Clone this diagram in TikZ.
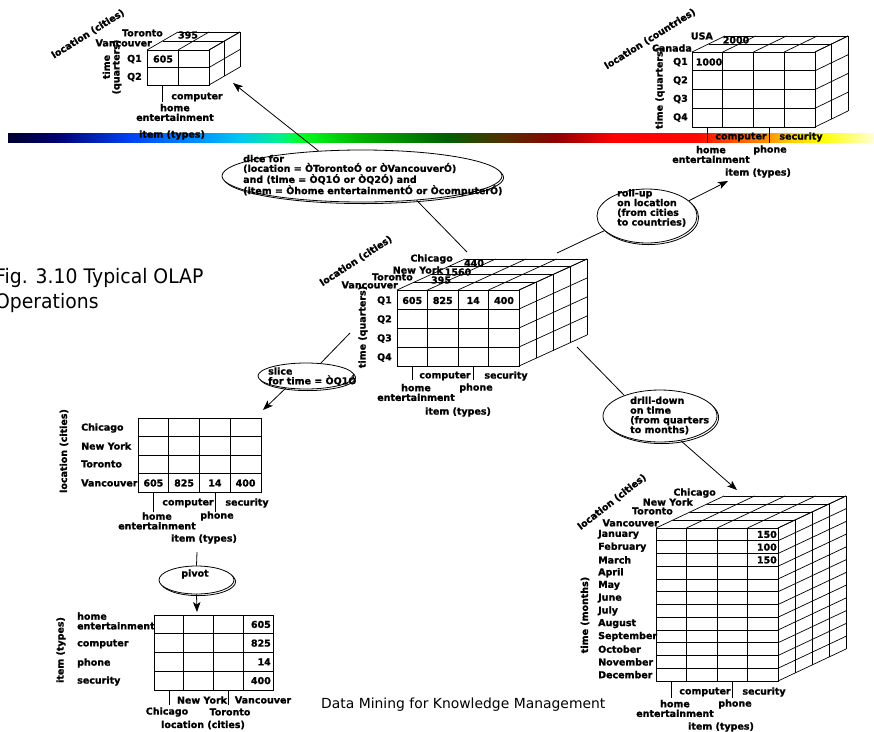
\documentclass[tikz,border=0pt]{standalone}
\usepackage{fontspec}
\setmainfont{DejaVu Sans}
\newfontfamily\heavy{DejaVu Sans Bold}[FakeBold=1.2]
\usetikzlibrary{shapes.geometric,arrows.meta,shadows}

% colour stops of the spectrum band
\definecolor{g0}{HTML}{000030}
\definecolor{g1}{HTML}{000070}
\definecolor{g2}{HTML}{0040F0}
\definecolor{g3}{HTML}{0080FF}
\definecolor{g4}{HTML}{00C8F0}
\definecolor{g5}{HTML}{00F090}
\definecolor{g6}{HTML}{00FF20}
\definecolor{g7}{HTML}{00B000}
\definecolor{g8}{HTML}{006000}
\definecolor{g9}{HTML}{503000}
\definecolor{g10}{HTML}{900000}
\definecolor{g11}{HTML}{FF0000}
\definecolor{g12}{HTML}{FF0800}
\definecolor{g13}{HTML}{FF4000}
\definecolor{g14}{HTML}{FF9000}
\definecolor{g15}{HTML}{FFD000}
\definecolor{g16}{HTML}{FFFF00}
\definecolor{g17}{HTML}{FFFFD8}

\tikzset{
  cubeline/.style={line width=0.7pt, black},
  lbl/.style={font=\heavy\fontsize{9.5}{9.7}\selectfont, inner sep=0pt, align=center},
  bubble/.style={ellipse, draw, line width=0.8pt, fill=white, inner sep=0pt,
    copy shadow={shadow xshift=1.6pt, shadow yshift=-1.6pt}},
  link/.style={line width=0.8pt},
  arrowlink/.style={line width=0.8pt, -{Stealth[length=10pt,width=7.5pt,inset=2.5pt]}},
  tickline/.style={line width=0.8pt},
}

% flat grid: x0, y0, columns, column width, rows, row height
\newcommand{\flatgrid}[6]{%
  \draw[cubeline] (#1,#2) rectangle ++({#3*#4},{#5*#6});
  \foreach \gi in {1,...,#3}{\draw[cubeline] ({#1+\gi*#4},#2) -- ++(0,{#5*#6});}
  \foreach \gj in {1,...,#5}{\draw[cubeline] (#1,{#2+\gj*#6}) -- ++({#3*#4},0);}
}
% data cube: front grid plus layers, each layer shifted by (dx,dy)
\newcommand{\olapcube}[9]{%
  \flatgrid{#1}{#2}{#3}{#4}{#5}{#6}
  \foreach \gk in {1,...,#7}{
    \draw[cubeline] ({#1+\gk*#8},{#2+\gk*(#9)}) -- ++({#3*#4},0);
    \draw[cubeline] ({#1+#3*#4+\gk*#8},{#2+\gk*(#9)}) -- ++(0,{#5*#6});
  }
  \foreach \gi in {0,...,#3}{\draw[cubeline] ({#1+\gi*#4},#2) -- ++({#7*#8},{#7*(#9)});}
  \foreach \gj in {0,...,#5}{\draw[cubeline] ({#1+#3*#4},{#2+\gj*#6}) -- ++({#7*#8},{#7*(#9)});}
}

\begin{document}
\begin{tikzpicture}[x=1pt,y=-1pt]
\useasboundingbox (0,0) rectangle (874,731);
\fill[white] (0,0) rectangle (874,731);

% spectrum band
\foreach \xa/\ca/\xb/\cb in {8/g0/56/g1, 56/g1/128/g2, 128/g2/184/g3, 184/g3/240/g4,
  240/g4/279/g5, 279/g5/301/g6, 301/g6/362/g7, 362/g7/446/g8, 446/g8/502/g9,
  502/g9/557/g10, 557/g10/613/g11, 613/g11/697/g12, 697/g12/725/g13,
  725/g13/767/g14, 767/g14/792/g15, 792/g15/823/g16, 823/g16/874/g17}
  \shade[left color=\ca, right color=\cb] (\xa,133) rectangle ({\xb+0.4},142);

% ---------- diced cube ----------
\olapcube{147}{50}{2}{31}{2}{17.5}{2}{15.5}{-9}
\node[lbl, anchor=east] (tl-tor) at (163,33) {Toronto};
\node[lbl] (tl-395) at (188,35) {395};
\node[lbl, anchor=east] (tl-van) at (152,43) {Vancouver};
\node[lbl, anchor=east] (tl-q1) at (142,59) {Q1};
\node[lbl, anchor=east] (tl-q2) at (142,77) {Q2};
\node[lbl] (tl-605) at (163,59) {605};
\node[lbl, rotate=32] (tl-loc) at (88,34) {location (cities)};
\node[lbl, rotate=90] (tl-time) at (112,67) {time\\(quarters)};
\draw[tickline] (162.5,85) -- (162.5,102);
\node[lbl] (tl-comp) at (197,97) {computer};
\node[lbl] (tl-home) at (175,112.5) {home\\entertainment};
\node[lbl] (tl-item) at (172,135) {item (types)};

% ---------- rolled-up cube ----------
\olapcube{692}{52}{4}{30.75}{4}{18.75}{2}{16.5}{-8}
\node[lbl, anchor=east] (tr-usa) at (713,36) {USA};
\node[lbl] (tr-2000) at (736,40) {2000};
\node[lbl, anchor=east] (tr-can) at (692,48) {Canada};
\node[lbl, anchor=east] (tr-q1) at (688,62) {Q1};
\node[lbl, anchor=east] (tr-q2) at (688,80.5) {Q2};
\node[lbl, anchor=east] (tr-q3) at (688,99) {Q3};
\node[lbl, anchor=east] (tr-q4) at (688,117.5) {Q4};
\node[lbl] (tr-1000) at (709,62) {1000};
\node[lbl, rotate=32] (tr-loc) at (650,39) {location (countries)};
\node[lbl, rotate=90] (tr-time) at (660,88) {time (quarters)};
\draw[tickline] (707.4,127) -- (707.4,143);
\draw[tickline] (768.9,127) -- (768.9,143);
\node[lbl] (tr-comp) at (741,137) {computer};
\node[lbl] (tr-sec) at (801,137) {security};
\node[lbl] (tr-home) at (711,154.5) {home\\entertainment};
\node[lbl] (tr-phone) at (770,150) {phone};
\node[lbl] (tr-item) at (758,173) {item (types)};

% ---------- central cube ----------
\olapcube{397}{290}{4}{30.5}{4}{19}{4}{17}{-7.75}
\node[lbl, anchor=east] (c-chi) at (453,259) {Chicago};
\node[lbl, anchor=east] (c-ny) at (443,270) {New York};
\node[lbl, anchor=east] (c-tor) at (413,277) {Toronto};
\node[lbl, anchor=east] (c-van) at (398,285) {Vancouver};
\node[lbl] (c-440) at (474,263) {440};
\node[lbl] (c-1560) at (458,272) {1560};
\node[lbl] (c-395) at (441,280) {395};
\node[lbl, anchor=east] (c-q1) at (392,300.5) {Q1};
\node[lbl, anchor=east] (c-q2) at (392,319.5) {Q2};
\node[lbl, anchor=east] (c-q3) at (392,338.5) {Q3};
\node[lbl, anchor=east] (c-q4) at (392,357.5) {Q4};
\node[lbl] (c-605) at (412.25,300.5) {605};
\node[lbl] (c-825) at (442.75,300.5) {825};
\node[lbl] (c-14) at (473.25,300.5) {14};
\node[lbl] (c-400) at (504,300.5) {400};
\node[lbl, rotate=33] (c-loc) at (356,261) {location (cities)};
\node[lbl, rotate=90] (c-time) at (363,327) {time (quarters)};
\draw[tickline] (412.25,366) -- (412.25,380);
\draw[tickline] (473.25,366) -- (473.25,380);
\node[lbl] (c-comp) at (445,376) {computer};
\node[lbl] (c-sec) at (506,376) {security};
\node[lbl] (c-home) at (416,392.5) {home\\entertainment};
\node[lbl] (c-phone) at (476,388) {phone};
\node[lbl] (c-item) at (458,412) {item (types)};

% ---------- sliced table ----------
\flatgrid{138}{418}{4}{30.75}{4}{18.5}
\node[lbl, anchor=west] (s-chi) at (81,428) {Chicago};
\node[lbl, anchor=west] (s-ny) at (81,446) {New York};
\node[lbl, anchor=west] (s-tor) at (81,464) {Toronto};
\node[lbl, anchor=west] (s-van) at (81,483) {Vancouver};
\node[lbl] (s-605) at (153.4,483) {605};
\node[lbl] (s-825) at (184.1,483) {825};
\node[lbl] (s-14) at (214.9,483) {14};
\node[lbl] (s-400) at (245.6,483) {400};
\node[lbl, rotate=90] (s-loc) at (64,451) {location (cities)};
\draw[tickline] (153.4,492) -- (153.4,512);
\draw[tickline] (214.9,492) -- (214.9,512);
\node[lbl] (s-comp) at (188,503) {computer};
\node[lbl] (s-sec) at (247,503) {security};
\node[lbl] (s-home) at (157,521) {home\\entertainment};
\node[lbl] (s-phone) at (217,516) {phone};
\node[lbl] (s-item) at (204,539) {item (types)};

% ---------- pivoted table ----------
\flatgrid{154}{615}{4}{29.75}{4}{18.75}
\node[lbl, anchor=west, align=left] (p-home) at (77,621) {home\\entertainment};
\node[lbl, anchor=west] (p-comp) at (77,644) {computer};
\node[lbl, anchor=west] (p-phone) at (77,663) {phone};
\node[lbl, anchor=west] (p-sec) at (77,681) {security};
\node[lbl, anchor=east] (p-605) at (271,624.4) {605};
\node[lbl, anchor=east] (p-825) at (271,643.1) {825};
\node[lbl, anchor=east] (p-14) at (271,661.9) {14};
\node[lbl, anchor=east] (p-400) at (271,680.6) {400};
\node[lbl, rotate=90] (p-item) at (61,650) {item (types)};
\draw[tickline] (168.9,690) -- (168.9,705);
\draw[tickline] (228.4,690) -- (228.4,705);
\node[lbl] (p-ny) at (202,700) {New York};
\node[lbl] (p-van) at (263,700) {Vancouver};
\node[lbl] (p-chi) at (167,712) {Chicago};
\node[lbl] (p-tor) at (230,712) {Toronto};
\node[lbl] (p-loc) at (203,725) {location (cities)};

% ---------- drilled-down cube ----------
\olapcube{656}{528}{4}{30.5}{12}{12.75}{4}{17}{-8}
\node[lbl, anchor=east] (d-chi) at (716,493) {Chicago};
\node[lbl, anchor=east] (d-ny) at (693,502) {New York};
\node[lbl, anchor=east] (d-tor) at (673,511) {Toronto};
\node[lbl, anchor=east] (d-van) at (659,523) {Vancouver};
\foreach \m [count=\k from 0] in {January,February,March,April,May,June,July,August,September,October,November,December}
  \node[lbl, anchor=west] (d-m\k) at (598,{534.4+12.75*\k}) {\m};
\node[lbl, anchor=east] (d-v1) at (777,534.4) {150};
\node[lbl, anchor=east] (d-v2) at (777,547.1) {100};
\node[lbl, anchor=east] (d-v3) at (777,559.9) {150};
\node[lbl, rotate=38] (d-loc) at (612,502) {location (cities)};
\node[lbl, rotate=90] (d-time) at (585,615) {time (months)};
\draw[tickline] (671.25,681) -- (671.25,698);
\draw[tickline] (732.25,681) -- (732.25,698);
\node[lbl] (d-comp) at (705,692) {computer};
\node[lbl] (d-sec) at (764,692) {security};
\node[lbl] (d-home) at (675,708.5) {home\\entertainment};
\node[lbl] (d-phone) at (735,704) {phone};
\node[lbl] (d-item) at (721,727) {item (types)};

% ---------- operation bubbles ----------
\node[bubble, minimum width=280pt, minimum height=52pt] (dice) at (362,176) {};
\node[lbl, anchor=west, align=left] (dice-txt) at (243,175.5)
  {dice for\\(location = ÒTorontoÓ or ÒVancouverÓ)\\and (time = ÒQ1Ó or ÒQ2Ó) and\\(item = Òhome entertainmentÓ or ÒcomputerÓ)};
\node[bubble, minimum width=100pt, minimum height=54pt] (rollup) at (647,216) {};
\node[lbl, anchor=west, align=left] (rollup-txt) at (617,208)
  {roll-up\\on location\\(from cities\\to countries)};
\node[bubble, minimum width=96pt, minimum height=26pt] (slice) at (306,376) {};
\node[lbl, anchor=west, align=left] (slice-txt) at (268,376.5) {slice\\for time = ÒQ1Ó};
\node[bubble, minimum width=114pt, minimum height=52pt] (drill) at (660,416) {};
\node[lbl, anchor=west, align=left] (drill-txt) at (630,415.5)
  {drill-down\\on time\\(from quarters\\to months)};
\node[bubble, minimum width=75pt, minimum height=28pt] (pivot) at (196.5,580) {};
\node[lbl] (pivot-txt) at (195,574) {pivot};

% ---------- connector end points ----------
\coordinate (c-up) at (467,252);
\coordinate (c-right) at (557,253);
\coordinate (c-left) at (350,333);
\coordinate (c-down) at (577,347);
\coordinate (tl-in) at (233,83);
\coordinate (tr-in) at (728,181);
\coordinate (s-in) at (263,410);
\coordinate (d-in) at (737,490);
\coordinate (s-out) at (197,552);
\coordinate (p-in) at (197,612);

\draw[link] (c-up) -- (dice.-24);
\draw[arrowlink] (dice.150) -- (tl-in);
\draw[link] (c-right) -- (rollup.199);
\draw[arrowlink] (rollup.20) -- (tr-in);
\draw[link] (c-left) -- (slice.41);
\draw[arrowlink] (slice.211) -- (s-in);
\draw[link] (c-down) -- (drill.150);
\draw[arrowlink] (drill.-50) -- (d-in);
\draw[link] (s-out) -- (pivot.north);
\draw[arrowlink] (pivot.south) -- (p-in);

% ---------- captions ----------
\node[anchor=base west, inner sep=0pt, font=\fontsize{20}{25}\selectfont, align=left, xscale=0.94] (fig)
  at (-5,308) {Fig. 3.10 Typical OLAP\\Operations};
\node[anchor=base west, inner sep=0pt, font=\fontsize{13.9}{16}\selectfont] (footer)
  at (321,708) {Data Mining for Knowledge Management};
\end{tikzpicture}
\end{document}
